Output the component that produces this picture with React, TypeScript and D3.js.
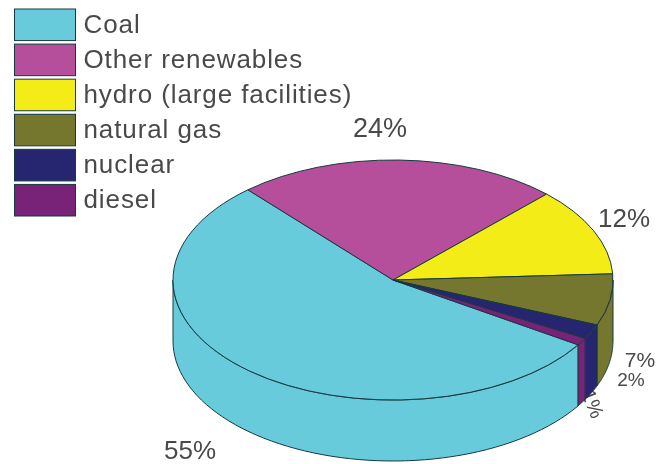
import { useMemo } from 'react';
import * as d3 from 'd3';

const categories = ['Coal', 'Other renewables', 'hydro (large facilities)', 'natural gas', 'nuclear', 'diesel'];
const shares = [55, 24, 12, 7, 2, 1];
const colors = ['#68cbdc', '#b54f9b', '#f3ec14', '#76772f', '#25276f', '#782178'];

const width = 657;
const height = 464;
const cx = 393;
const cy = 280;
const rx = 220;
const ry = 120;
const depth = 61;
const deg = Math.PI / 180;
const edge = '#17393f';
const textColor = '#4a4a4a';
const fontFamily = '"Liberation Sans", Arial, sans-serif';

// MATLAB pie3 look: first slice starts low on the right and runs clockwise
const startAngle = 122.7 * deg;

const pieLayout = d3
  .pie<number>()
  .sort(null)
  .startAngle(startAngle)
  .endAngle(startAngle + 2 * Math.PI);

const topArc = d3.arc<d3.PieArcDatum<number>>().innerRadius(0).outerRadius(rx);

const legendY = d3.scaleBand<string>().domain(categories).range([9, 216]).paddingInner(0.1);

// wall of a slice, only the part of the rim that faces the viewer
function wallPaths(a0: number, a1: number) {
  const paths: string[] = [];
  [0, 1].forEach((k) => {
    const lo = Math.max(a0, Math.PI / 2 + k * 2 * Math.PI);
    const hi = Math.min(a1, (3 * Math.PI) / 2 + k * 2 * Math.PI);
    if (hi <= lo) return;
    const steps = d3.range(0, 61).map((i) => lo + ((hi - lo) * i) / 60);
    const upper = steps.map((a) => [rx * Math.sin(a), -ry * Math.cos(a)] as [number, number]);
    const lower = upper.map(([x, y]) => [x, y + depth] as [number, number]).reverse();
    paths.push(`${d3.line()([...upper, ...lower])}Z`);
  });
  return paths;
}

export default function App() {
  const slices = useMemo(() => pieLayout(shares), []);

  return (
    <svg
      width={width}
      height={height}
      viewBox={`0 0 ${width} ${height}`}
      style={{ position: 'absolute', left: 0, top: 0, background: '#fff' }}
    >
      <defs>
        <filter id="soft" x="-5%" y="-5%" width="110%" height="110%">
          <feGaussianBlur stdDeviation="0.55" />
        </filter>
      </defs>
      <g filter="url(#soft)">
        {/* legend */}
        {categories.map((name, i) => (
          <g key={name}>
            <rect
              x={14.5}
              y={legendY(name)}
              width={61}
              height={legendY.bandwidth()}
              fill={colors[i]}
              stroke={edge}
              strokeWidth={1}
            />
            <text
              x={83.5}
              y={(legendY(name) as number) + legendY.bandwidth() / 2 + 8}
              fontFamily={fontFamily}
              fontSize={26}
              letterSpacing={0.9}
              fill={textColor}
            >
              {name}
            </text>
          </g>
        ))}

        {/* this label sits partly behind the pie, so it goes first */}
        <text
          transform="translate(581,393) rotate(68)"
          fontFamily={fontFamily}
          fontSize={20}
          fill={textColor}
        >
          {`${shares[5]}%`}
        </text>

        <g transform={`translate(${cx},${cy})`}>
          {slices.map((s, i) =>
            wallPaths(s.startAngle, s.endAngle).map((d, j) => (
              <path key={`${i}-${j}`} d={d} fill={colors[i]} stroke={edge} strokeWidth={1} strokeLinejoin="round" />
            )),
          )}
          <g transform={`scale(1,${ry / rx})`}>
            {slices.map((s, i) => (
              <path
                key={categories[i]}
                d={topArc(s) as string}
                fill={colors[i]}
                stroke={edge}
                strokeWidth={1}
                vectorEffect="non-scaling-stroke"
              />
            ))}
          </g>
        </g>

        {/* percent labels */}
        <g fontFamily={fontFamily} fill={textColor} textAnchor="middle">
          <text x={190} y={458.5} fontSize={26}>{`${shares[0]}%`}</text>
          <text x={380} y={137} fontSize={27}>{`${shares[1]}%`}</text>
          <text x={624} y={227} fontSize={26}>{`${shares[2]}%`}</text>
          <text x={640} y={367} fontSize={21}>{`${shares[3]}%`}</text>
          <text x={631} y={386} fontSize={19}>{`${shares[4]}%`}</text>
        </g>
      </g>
    </svg>
  );
}
